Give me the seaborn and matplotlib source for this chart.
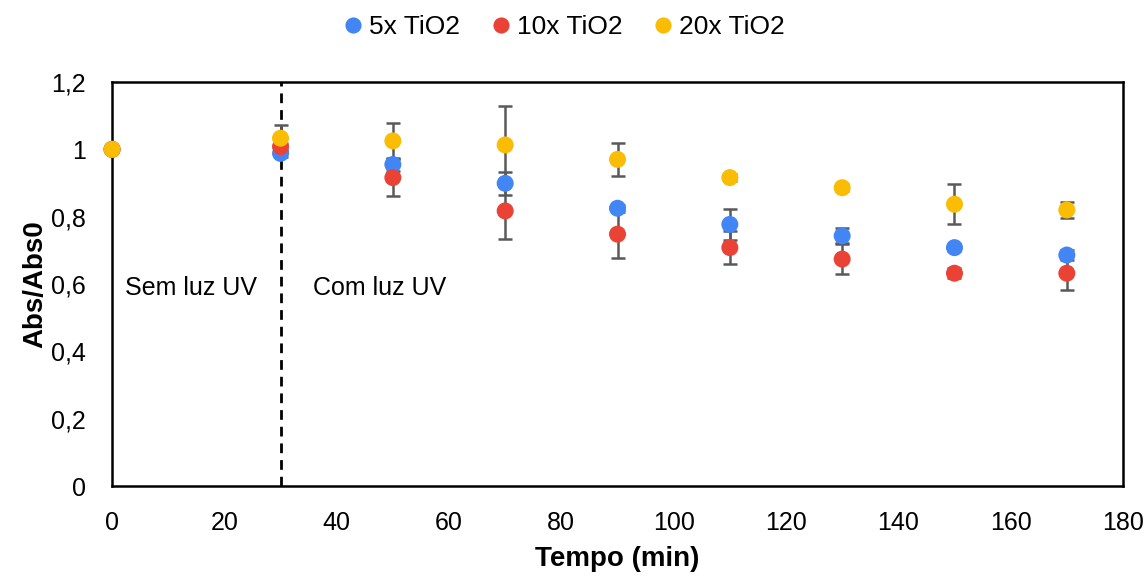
import matplotlib
matplotlib.use("Agg")
import matplotlib.pyplot as plt
import seaborn as sns
import pandas as pd

time = [0, 30, 50, 70, 90, 110, 130, 150, 170]
series_names = ["5x TiO2", "10x TiO2", "20x TiO2"]
vals_5x = [1.0, 0.988, 0.955, 0.899, 0.825, 0.777, 0.743, 0.708, 0.686]
err_5x = [0, 0.01, 0.02, 0.034, 0.01, 0.046, 0.022, 0.01, 0.015]
vals_10x = [1.0, 1.008, 0.916, 0.817, 0.748, 0.708, 0.674, 0.632, 0.632]
err_10x = [0, 0.01, 0.054, 0.084, 0.072, 0.05, 0.045, 0.015, 0.05]
vals_20x = [1.0, 1.033, 1.025, 1.013, 0.970, 0.916, 0.886, 0.837, 0.820]
err_20x = [0, 0.04, 0.054, 0.117, 0.048, 0.01, 0.01, 0.06, 0.025]
colors = ["#4285F4", "#EA4335", "#FBBC04"]
y_ticks = [0, 0.2, 0.4, 0.6, 0.8, 1.0, 1.2]
y_tick_labels = ["0", "0,2", "0,4", "0,6", "0,8", "1", "1,2"]
x_ticks = [0, 20, 40, 60, 80, 100, 120, 140, 160, 180]

sns.set_style("white")
plt.rcParams["font.family"] = ["Liberation Sans", "DejaVu Sans"]
plt.rcParams["text.color"] = "black"
plt.rcParams["axes.labelcolor"] = "black"
plt.rcParams["xtick.color"] = "black"
plt.rcParams["ytick.color"] = "black"

rows = []
for name, v, e in zip(series_names, [vals_5x, vals_10x, vals_20x], [err_5x, err_10x, err_20x]):
    for t, yv, ev in zip(time, v, e):
        rows.append({"Tempo": t, "Abs": yv, "err": ev, "Serie": name})
df = pd.DataFrame(rows)

fig = plt.figure(figsize=(11.48, 5.77), dpi=100)
ax = fig.add_axes([0.0976, 0.1577, 0.8806, 0.7002])

for i, name in enumerate(series_names):
    sub = df[df["Serie"] == name]
    ax.errorbar(sub["Tempo"], sub["Abs"], yerr=sub["err"], fmt="none",
                ecolor="#595959", elinewidth=1.8, capsize=5, capthick=1.8,
                zorder=2 + 2 * i)

sns.scatterplot(data=df, x="Tempo", y="Abs", hue="Serie", hue_order=series_names,
                palette=colors, s=150, edgecolor="none", ax=ax, zorder=10,
                legend=True, clip_on=False)

ax.axvline(30, color="black", linestyle=(0, (3.5, 2.5)), linewidth=2, zorder=1)

ax.text(2.3, 0.588, "Sem luz UV", fontsize=18, va="center", ha="left")
ax.text(35.8, 0.588, "Com luz UV", fontsize=18, va="center", ha="left")

ax.set_xlim(0, 180)
ax.set_ylim(0, 1.2)
ax.set_xticks(x_ticks)
ax.set_xticklabels([str(x) for x in x_ticks], fontsize=18)
ax.set_yticks(y_ticks)
ax.set_yticklabels(y_tick_labels, fontsize=18)
ax.tick_params(axis="x", length=0, pad=18)
ax.tick_params(axis="y", length=0, pad=19)
ax.set_xlabel("Tempo (min)", fontsize=20, fontweight="bold", labelpad=8)
ax.set_ylabel("Abs/Abs0", fontsize=20, fontweight="bold", labelpad=2)
for sp in ax.spines.values():
    sp.set_visible(True)
    sp.set_color("black")
    sp.set_linewidth(1.8)

handles, labels = ax.get_legend_handles_labels()
ax.get_legend().remove()
fig.legend(handles, labels, loc="center", bbox_to_anchor=(0.492, 0.953), ncol=3,
           frameon=False, fontsize=19, handlelength=0.6, handletextpad=0.3,
           columnspacing=1.25, markerscale=0.95)

fig.savefig("out.png", dpi=100)
